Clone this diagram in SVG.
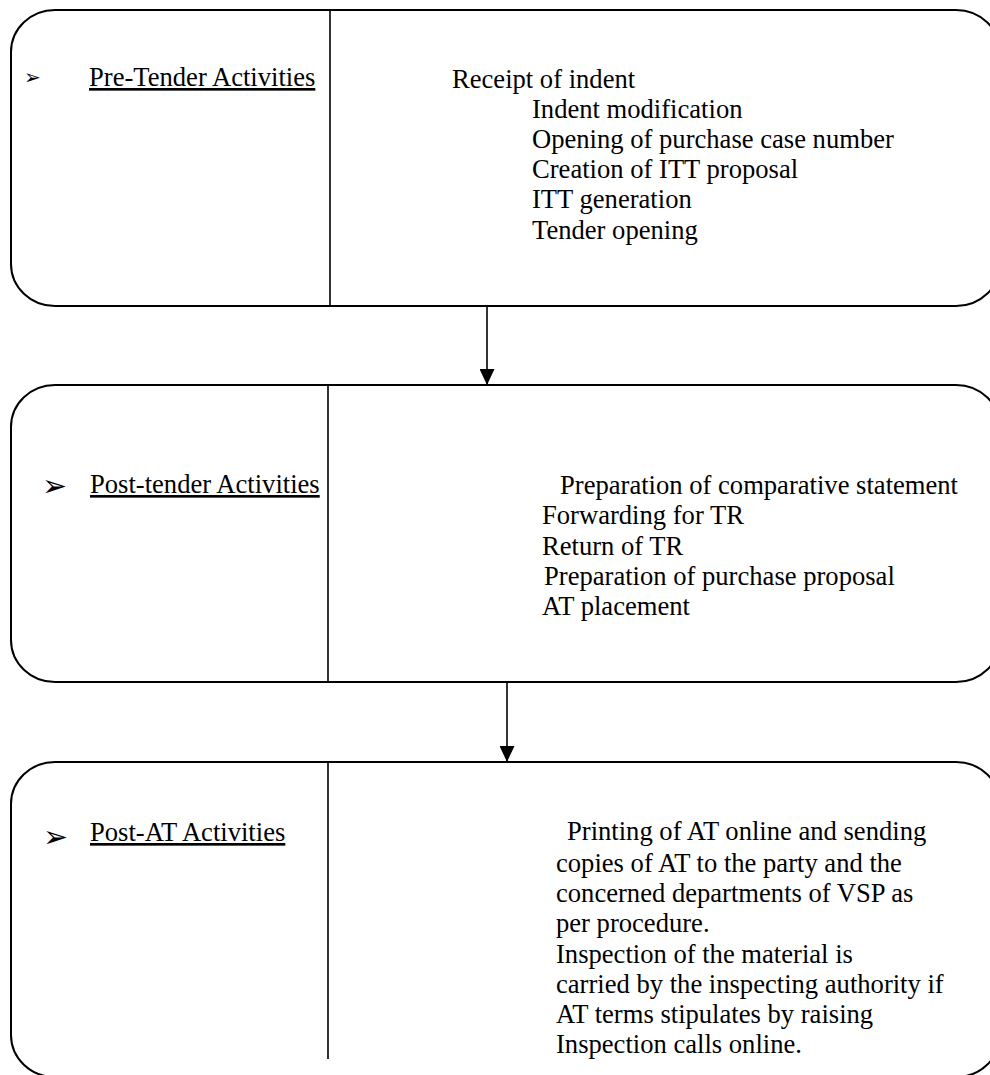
<svg xmlns="http://www.w3.org/2000/svg" width="990" height="1075" viewBox="0 0 990 1075">
  <style>
    .box { fill: #fff; stroke: #000; stroke-width: 2; }
    .div { stroke: #000; stroke-width: 1.6; }
    .t { font-family: "Liberation Serif", "Times New Roman", serif; font-size: 26.6px; fill: #000; }
    .h { text-decoration: underline; }
    .b { font-family: "DejaVu Sans", sans-serif; font-size: 30px; fill: #000; }
    .conn { stroke: #000; stroke-width: 1.6; fill: none; }
  </style>
  <defs>
    <marker id="arr" markerWidth="16" markerHeight="15" refX="16" refY="7.5" orient="auto" markerUnits="userSpaceOnUse">
      <path d="M0,0 L16,7.5 L0,15 Z" fill="#000"/>
    </marker>
  </defs>
  <rect width="990" height="1075" fill="#fff"/>

  <g id="node-pre-tender">
    <rect class="box" x="11" y="10" width="989" height="296" rx="44" ry="42"/>
    <line class="div" x1="330" y1="10" x2="330" y2="306"/>
    <text class="b" x="24" y="84" style="font-size:20px">➢</text>
    <text class="t h" x="89" y="86">Pre-Tender Activities</text>
    <text class="t" x="452" y="88">Receipt of indent</text>
    <text class="t" x="532" y="118">Indent modification</text>
    <text class="t" x="532" y="148">Opening of purchase case number</text>
    <text class="t" x="532" y="178">Creation of ITT proposal</text>
    <text class="t" x="532" y="208">ITT generation</text>
    <text class="t" x="532" y="239">Tender opening</text>
  </g>

  <g id="node-post-tender">
    <rect class="box" x="11" y="385" width="989" height="297" rx="44" ry="42"/>
    <line class="div" x1="328" y1="385" x2="328" y2="682"/>
    <text class="b" x="42" y="496">➢</text>
    <text class="t h" x="90" y="493">Post-tender Activities</text>
    <text class="t" x="560" y="494">Preparation of comparative statement</text>
    <text class="t" x="542" y="524">Forwarding for TR</text>
    <text class="t" x="542" y="555">Return of TR</text>
    <text class="t" x="544" y="585">Preparation of purchase proposal</text>
    <text class="t" x="542" y="615">AT placement</text>
  </g>

  <g id="node-post-at">
    <rect class="box" x="11" y="762" width="989" height="315" rx="44" ry="42"/>
    <line class="div" x1="328" y1="762" x2="328" y2="1059"/>
    <text class="b" x="43" y="847">➢</text>
    <text class="t h" x="90" y="841">Post-AT Activities</text>
    <text class="t" x="567" y="840">Printing of AT online and sending</text>
    <text class="t" x="556" y="872">copies of AT to the party and the</text>
    <text class="t" x="556" y="902">concerned departments of VSP as</text>
    <text class="t" x="556" y="932">per procedure.</text>
    <text class="t" x="556" y="963">Inspection of the material is</text>
    <text class="t" x="556" y="993">carried by the inspecting authority if</text>
    <text class="t" x="556" y="1023">AT terms stipulates by raising</text>
    <text class="t" x="556" y="1053">Inspection calls online.</text>
  </g>

  <g id="connectors">
    <line class="conn" x1="487" y1="306" x2="487" y2="385" marker-end="url(#arr)"/>
    <line class="conn" x1="507" y1="682" x2="507" y2="762" marker-end="url(#arr)"/>
  </g>
</svg>
